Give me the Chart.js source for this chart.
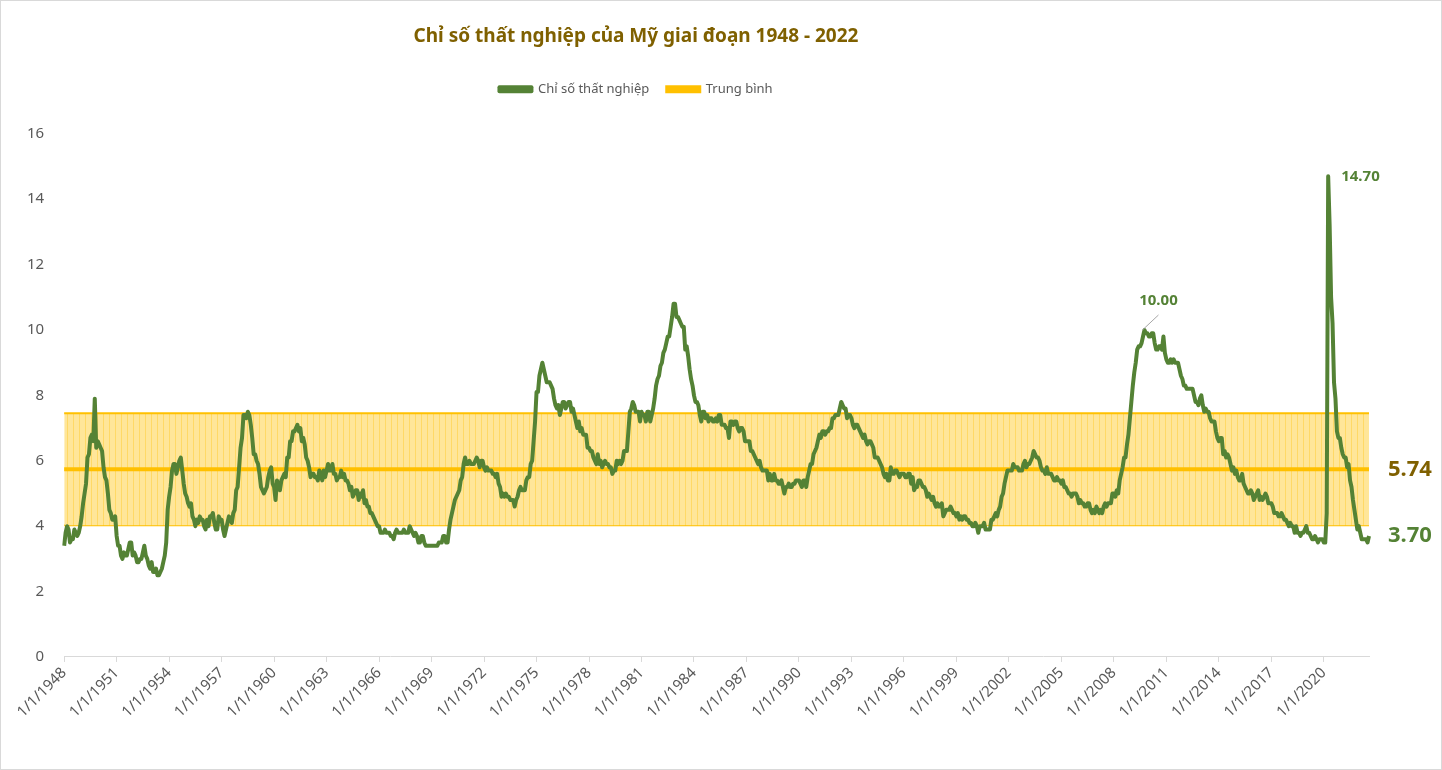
<!DOCTYPE html>
<html lang="vi">
<head>
<meta charset="utf-8">
<title>Chỉ số thất nghiệp của Mỹ 1948 - 2022</title>
<script src="https://cdn.jsdelivr.net/npm/chart.js@4.4.0/dist/chart.umd.min.js"></script>
<style>
  html, body { margin: 0; padding: 0; background: #fff; }
  #wrap { position: relative; width: 1442px; height: 770px; box-sizing: border-box; border: 1px solid #d9d9d9; }
</style>
</head>
<body>
<div id="wrap"><canvas id="chart"></canvas></div>
<script>
// ty le that nghiep theo thang, tu 1/1948 den 8/2022 (moi dong la mot nam)
const rates = [
  3.4,3.8,4.0,3.9,3.5,3.6,3.6,3.9,3.8,3.7,3.8,4.0,
  4.3,4.7,5.0,5.3,6.1,6.2,6.7,6.8,6.6,7.9,6.4,6.6,
  6.5,6.4,6.3,5.8,5.5,5.4,5.0,4.5,4.4,4.2,4.2,4.3,
  3.7,3.4,3.4,3.1,3.0,3.2,3.1,3.1,3.3,3.5,3.5,3.1,
  3.2,3.1,2.9,2.9,3.0,3.0,3.2,3.4,3.1,3.0,2.8,2.7,
  2.9,2.6,2.6,2.7,2.5,2.5,2.6,2.7,2.9,3.1,3.5,4.5,
  4.9,5.2,5.7,5.9,5.9,5.6,5.8,6.0,6.1,5.7,5.3,5.0,
  4.9,4.7,4.6,4.7,4.3,4.2,4.0,4.2,4.1,4.3,4.2,4.2,
  4.0,3.9,4.2,4.0,4.3,4.3,4.4,4.1,3.9,3.9,4.3,4.2,
  4.2,3.9,3.7,3.9,4.1,4.3,4.2,4.1,4.4,4.5,5.1,5.2,
  5.8,6.4,6.7,7.4,7.4,7.3,7.5,7.4,7.1,6.7,6.2,6.2,
  6.0,5.9,5.6,5.2,5.1,5.0,5.1,5.2,5.5,5.7,5.8,5.3,
  5.2,4.8,5.4,5.2,5.1,5.4,5.5,5.6,5.5,6.1,6.1,6.6,
  6.6,6.9,6.9,7.0,7.1,6.9,7.0,6.6,6.7,6.5,6.1,6.0,
  5.8,5.5,5.6,5.6,5.5,5.5,5.4,5.7,5.6,5.4,5.7,5.5,
  5.7,5.9,5.7,5.7,5.9,5.6,5.6,5.4,5.5,5.5,5.7,5.5,
  5.6,5.4,5.4,5.3,5.1,5.2,4.9,5.0,5.1,5.1,4.8,5.0,
  4.9,5.1,4.7,4.8,4.6,4.6,4.4,4.4,4.3,4.2,4.1,4.0,
  4.0,3.8,3.8,3.8,3.9,3.8,3.8,3.8,3.7,3.7,3.6,3.8,
  3.9,3.8,3.8,3.8,3.8,3.9,3.8,3.8,3.8,4.0,3.9,3.8,
  3.7,3.8,3.7,3.5,3.5,3.7,3.7,3.5,3.4,3.4,3.4,3.4,
  3.4,3.4,3.4,3.4,3.4,3.5,3.5,3.5,3.7,3.7,3.5,3.5,
  3.9,4.2,4.4,4.6,4.8,4.9,5.0,5.1,5.4,5.5,5.9,6.1,
  5.9,5.9,6.0,5.9,5.9,5.9,6.0,6.1,6.0,5.8,6.0,6.0,
  5.8,5.7,5.8,5.7,5.7,5.7,5.6,5.6,5.5,5.6,5.3,5.2,
  4.9,5.0,4.9,5.0,4.9,4.9,4.8,4.8,4.8,4.6,4.8,4.9,
  5.1,5.2,5.1,5.1,5.1,5.4,5.5,5.5,5.9,6.0,6.6,7.2,
  8.1,8.1,8.6,8.8,9.0,8.8,8.6,8.4,8.4,8.4,8.3,8.2,
  7.9,7.7,7.6,7.7,7.4,7.6,7.8,7.8,7.6,7.7,7.8,7.8,
  7.5,7.6,7.4,7.2,7.0,7.2,6.9,7.0,6.8,6.8,6.8,6.4,
  6.4,6.3,6.3,6.1,6.0,5.9,6.2,5.9,6.0,5.8,5.9,6.0,
  5.9,5.9,5.8,5.8,5.6,5.7,5.7,6.0,5.9,6.0,5.9,6.0,
  6.3,6.3,6.3,6.9,7.5,7.6,7.8,7.7,7.5,7.5,7.5,7.2,
  7.5,7.4,7.4,7.2,7.5,7.5,7.2,7.4,7.6,7.9,8.3,8.5,
  8.6,8.9,9.0,9.3,9.4,9.6,9.8,9.8,10.1,10.4,10.8,10.8,
  10.4,10.4,10.3,10.2,10.1,10.1,9.4,9.5,9.2,8.8,8.5,8.3,
  8.0,7.8,7.8,7.7,7.4,7.2,7.5,7.5,7.3,7.4,7.2,7.3,
  7.3,7.2,7.2,7.3,7.2,7.4,7.4,7.1,7.1,7.1,7.0,7.0,
  6.7,7.2,7.2,7.1,7.2,7.2,7.0,6.9,7.0,7.0,6.9,6.6,
  6.6,6.6,6.6,6.3,6.3,6.2,6.1,6.0,5.9,6.0,5.8,5.7,
  5.7,5.7,5.7,5.4,5.6,5.4,5.4,5.6,5.4,5.4,5.3,5.3,
  5.4,5.2,5.0,5.2,5.2,5.3,5.2,5.2,5.3,5.3,5.4,5.4,
  5.4,5.3,5.2,5.4,5.4,5.2,5.5,5.7,5.9,5.9,6.2,6.3,
  6.4,6.6,6.8,6.7,6.9,6.9,6.8,6.9,6.9,7.0,7.0,7.3,
  7.3,7.4,7.4,7.4,7.6,7.8,7.7,7.6,7.6,7.3,7.4,7.4,
  7.3,7.1,7.0,7.1,7.1,7.0,6.9,6.8,6.7,6.8,6.6,6.5,
  6.6,6.6,6.5,6.4,6.1,6.1,6.1,6.0,5.9,5.8,5.6,5.5,
  5.6,5.4,5.4,5.8,5.6,5.6,5.7,5.7,5.6,5.5,5.6,5.6,
  5.6,5.5,5.5,5.6,5.6,5.3,5.5,5.1,5.2,5.2,5.4,5.4,
  5.3,5.2,5.2,5.1,4.9,5.0,4.9,4.8,4.9,4.7,4.6,4.7,
  4.6,4.6,4.7,4.3,4.4,4.5,4.5,4.5,4.6,4.5,4.4,4.4,
  4.3,4.4,4.2,4.3,4.2,4.3,4.3,4.2,4.2,4.1,4.1,4.0,
  4.0,4.1,4.0,3.8,4.0,4.0,4.0,4.1,3.9,3.9,3.9,3.9,
  4.2,4.2,4.3,4.4,4.3,4.5,4.6,4.9,5.0,5.3,5.5,5.7,
  5.7,5.7,5.7,5.9,5.8,5.8,5.8,5.7,5.7,5.7,5.9,6.0,
  5.8,5.9,5.9,6.0,6.1,6.3,6.2,6.1,6.1,6.0,5.8,5.7,
  5.7,5.6,5.8,5.6,5.6,5.6,5.5,5.4,5.4,5.5,5.4,5.4,
  5.3,5.4,5.2,5.2,5.1,5.0,5.0,4.9,5.0,5.0,5.0,4.9,
  4.7,4.8,4.7,4.7,4.6,4.6,4.7,4.7,4.5,4.4,4.5,4.4,
  4.6,4.5,4.4,4.5,4.4,4.6,4.7,4.6,4.7,4.7,4.7,5.0,
  5.0,4.9,5.1,5.0,5.4,5.6,5.8,6.1,6.1,6.5,6.8,7.3,
  7.8,8.3,8.7,9.0,9.4,9.5,9.5,9.6,9.8,10.0,9.9,9.9,
  9.8,9.8,9.9,9.9,9.6,9.4,9.4,9.5,9.5,9.4,9.8,9.3,
  9.1,9.0,9.0,9.1,9.0,9.1,9.0,9.0,9.0,8.8,8.6,8.5,
  8.3,8.3,8.2,8.2,8.2,8.2,8.2,8.0,7.8,7.8,7.7,7.9,
  8.0,7.7,7.5,7.6,7.5,7.5,7.3,7.2,7.2,7.2,6.9,6.7,
  6.6,6.7,6.7,6.2,6.3,6.1,6.2,6.1,5.9,5.7,5.8,5.6,
  5.7,5.5,5.4,5.4,5.6,5.3,5.2,5.1,5.0,5.0,5.1,5.0,
  4.8,4.9,5.0,5.1,4.8,4.9,4.8,4.9,5.0,4.9,4.7,4.7,
  4.7,4.6,4.4,4.4,4.4,4.3,4.3,4.4,4.3,4.2,4.2,4.1,
  4.0,4.1,4.0,4.0,3.8,4.0,3.8,3.8,3.7,3.8,3.8,3.9,
  4.0,3.8,3.8,3.7,3.6,3.6,3.7,3.6,3.5,3.6,3.6,3.6,
  3.5,3.5,4.4,14.7,13.2,11.0,10.2,8.4,7.9,6.9,6.7,6.7,
  6.4,6.2,6.1,6.1,5.8,5.9,5.4,5.2,4.8,4.5,4.2,3.9,
  4.0,3.8,3.6,3.6,3.6,3.6,3.5,3.7
];
const startYear = 1948;
const avg = 5.74;          // trung binh
const bandLow = 4.03;      // vung vang: trung binh +/- 1 do lech chuan
const bandHigh = 7.45;
const yTicks = [0, 2, 4, 6, 8, 10, 12, 14, 16];
const tickEvery = 36;      // nhan truc x moi 3 nam

const FONT = '"Noto Sans", "DejaVu Sans", sans-serif';
const XANH = '#548235';
const CAM = '#FFC000';
const NAU = '#7F6000';
const XAM = '#595959';

// nhan thang dang m/1/yyyy
const labels = [];
for (let i = 0; i < rates.length; i++) {
  labels.push((i % 12 + 1) + '/1/' + (startYear + Math.floor(i / 12)));
}

function stripes() {
  const c = document.createElement('canvas');
  c.width = 6; c.height = 8;
  const g = c.getContext('2d');
  g.fillStyle = '#FFE699';
  g.fillRect(0, 0, 6, 8);
  g.fillStyle = '#FFD966';
  g.fillRect(0, 0, 1, 8);
  return g.createPattern(c, 'repeat');
}

// chen them khoang trong duoi chu thich
const legendGap = {
  id: 'legendGap',
  beforeInit(chart) {
    const fit = chart.legend.fit;
    chart.legend.fit = function () {
      fit.bind(chart.legend)();
      this.height += 28;
    };
  }
};

// tieu de va chu thich lech trai nhu ban goc
const canGiua = {
  id: 'canGiua',
  afterLayout(chart) {
    [chart.titleBlock, chart.legend].forEach(b => { b.left = 0; b.right = 1270; });
  }
};

// cac so lieu ghi tren bieu do
const nhanSo = {
  id: 'nhanSo',
  afterDatasetsDraw(chart) {
    const { ctx, chartArea } = chart;
    const x = chart.scales.x, y = chart.scales.y;
    ctx.save();
    ctx.textBaseline = 'middle';

    const iMax = rates.indexOf(Math.max(...rates));
    ctx.font = 'bold 15px ' + FONT;
    ctx.fillStyle = XANH;
    ctx.textAlign = 'left';
    ctx.fillText(rates[iMax].toFixed(2), x.getPixelForValue(iMax) + 13, y.getPixelForValue(rates[iMax]));

    const i09 = rates.indexOf(10.0);
    const px = x.getPixelForValue(i09), py = y.getPixelForValue(10.0);
    ctx.strokeStyle = '#a6a6a6';
    ctx.lineWidth = 1;
    ctx.beginPath();
    ctx.moveTo(px - 2, py);
    ctx.lineTo(px + 14, py - 15);
    ctx.stroke();
    ctx.textAlign = 'center';
    ctx.fillText(rates[i09].toFixed(2), px + 14, py - 29);

    ctx.textAlign = 'left';
    ctx.font = 'bold 22px ' + FONT;
    ctx.fillStyle = NAU;
    ctx.fillText(avg.toFixed(2), chartArea.right + 19, y.getPixelForValue(avg));
    const last = rates[rates.length - 1];
    ctx.fillStyle = XANH;
    ctx.fillText(last.toFixed(2), chartArea.right + 19, y.getPixelForValue(last));
    ctx.restore();
  }
};

new Chart(document.getElementById('chart'), {
  type: 'line',
  data: {
    labels: labels,
    datasets: [
      {
        label: 'Chỉ số thất nghiệp',
        data: rates,
        borderColor: XANH,
        backgroundColor: XANH,
        borderWidth: 4,
        pointRadius: 0,
        borderJoinStyle: 'round',
        fill: false,
        order: 0
      },
      {
        label: 'Trung bình',
        data: labels.map(() => avg),
        borderColor: CAM,
        backgroundColor: CAM,
        borderWidth: 4,
        pointRadius: 0,
        fill: false,
        order: 1
      },
      {
        label: 'low',
        data: labels.map(() => bandLow),
        borderColor: CAM,
        borderWidth: 2,
        pointRadius: 0,
        fill: false,
        order: 3
      },
      {
        label: 'high',
        data: labels.map(() => bandHigh),
        borderColor: CAM,
        backgroundColor: stripes(),
        borderWidth: 2,
        pointRadius: 0,
        fill: '-1',
        order: 2
      }
    ]
  },
  options: {
    responsive: true,
    maintainAspectRatio: false,
    animation: false,
    layout: { padding: { left: 14, right: 72, bottom: 46, top: 0 } },
    plugins: {
      title: {
        display: true,
        text: 'Chỉ số thất nghiệp của Mỹ giai đoạn 1948 - 2022',
        color: NAU,
        font: { family: FONT, size: 19, weight: 'bold' },
        padding: { top: 24, bottom: 17 }
      },
      legend: {
        position: 'top',
        labels: {
          color: XAM,
          font: { family: FONT, size: 13 },
          boxWidth: 32,
          boxHeight: 4,
          padding: 18,
          filter: (item) => item.datasetIndex < 2
        }
      },
      tooltip: { enabled: false }
    },
    scales: {
      x: {
        type: 'category',
        offset: false,
        border: { color: '#d9d9d9' },
        grid: { drawOnChartArea: false, drawTicks: true, tickLength: 5, color: '#d9d9d9' },
        ticks: {
          autoSkip: false,
          minRotation: 45,
          maxRotation: 45,
          padding: 2,
          color: XAM,
          font: { family: FONT, size: 15 },
          callback: function (v, i) { return i % tickEvery === 0 ? labels[i] : null; }
        }
      },
      y: {
        min: 0,
        max: 16,
        border: { display: false },
        grid: { display: false },
        afterBuildTicks: (scale) => { scale.ticks = yTicks.map(v => ({ value: v })); },
        ticks: {
          padding: 12,
          color: XAM,
          font: { family: FONT, size: 15 }
        }
      }
    }
  },
  plugins: [legendGap, canGiua, nhanSo]
});
</script>
</body>
</html>
